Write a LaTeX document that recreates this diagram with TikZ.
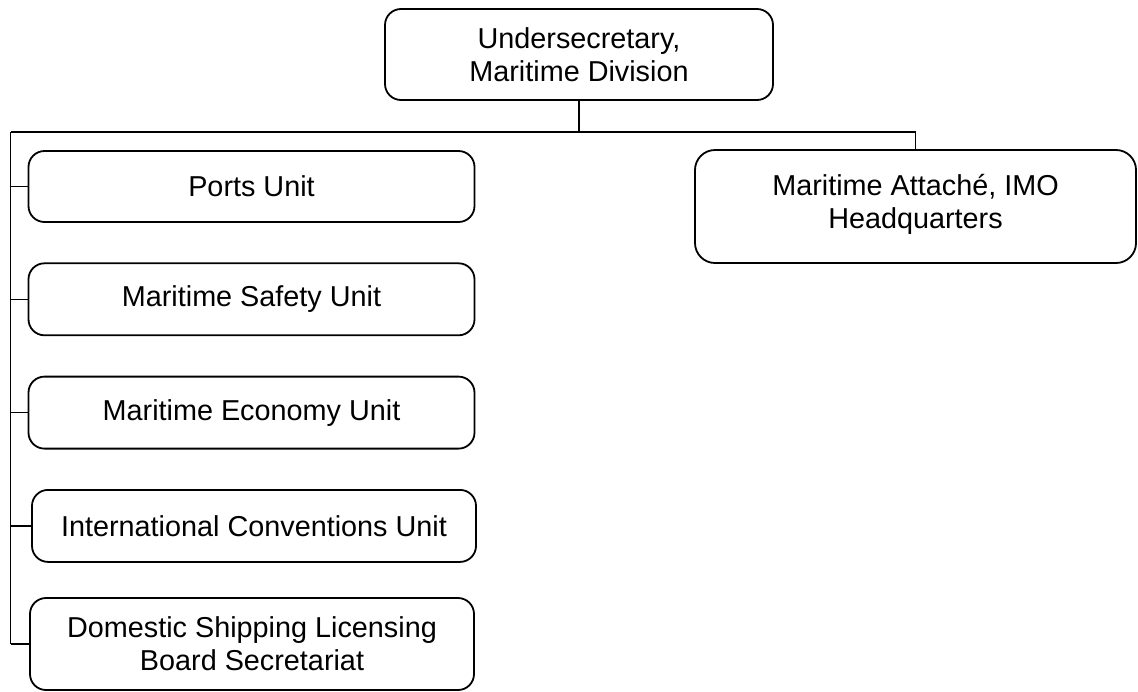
\documentclass[tikz,border=0pt]{standalone}
\usepackage{fontspec}
\setmainfont{Liberation Sans}
\usetikzlibrary{positioning}

\begin{document}
\begin{tikzpicture}[
      node distance = 19.75pt,
      unit/.style   = {rectangle, draw, rounded corners=8pt, line width=0.9pt,
                       minimum width=223pt, minimum height=36pt,
                       align=center, inner sep=2pt,
                       font=\fontsize{14.4}{16.5}\selectfont},
      link/.style   = {line width=0.8pt},
    ]
    \useasboundingbox (0,0) rectangle (569pt,-345.5pt);

    \node[unit, minimum width=194pt, minimum height=45.5pt]
          (usec) at (289.5pt,-27.25pt) {Undersecretary,\\Maritime Division};

    % left column of units
    \node[unit, minimum height=35.5pt] (ports) at (125.75pt,-93.25pt) {Ports Unit};
    \node[unit, below=of ports]                (safety) {Maritime Safety Unit};
    \node[unit, below=of safety]               (econ)   {Maritime Economy Unit};
    \node[unit, below=of econ, xshift=1.25pt,
          minimum width=222pt]                 (conv)   {International Conventions Unit};
    \node[unit, minimum width=222pt, minimum height=46pt]
          (dsl) at (126pt,-322pt) {Domestic Shipping Licensing\\Board Secretariat};

    % attache box
    \node[unit, rounded corners=10pt, minimum width=220.5pt, minimum height=56.5pt,
          text depth=5pt]
          (imo) at (457.75pt,-103.25pt) {Maritime Attach\'e, IMO\\Headquarters};

    % bus lines
    \coordinate (busL) at (5.25pt,-66pt);
    \coordinate (busR) at (imo.north |- busL);
    \draw[link] (usec.south) -- (usec.south |- busL);
    \draw[link] (busL) -- (busR) -- (imo.north);
    \draw[link] (busL) -- (busL |- dsl.west);
    \foreach \u in {ports, safety, econ, conv, dsl}
      \draw[link] (busL |- \u.west) -- (\u.west);
  \end{tikzpicture}
\end{document}
